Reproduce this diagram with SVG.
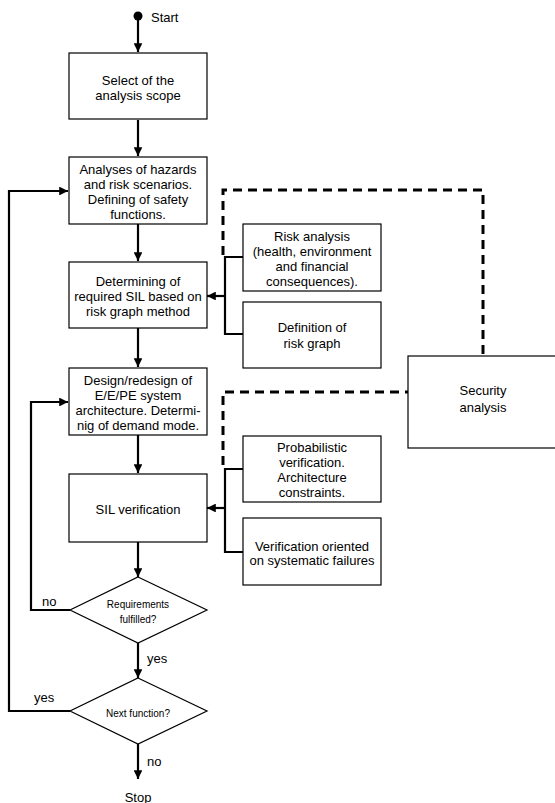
<svg xmlns="http://www.w3.org/2000/svg" width="555" height="803" viewBox="0 0 555 803">
<style>
  .box { fill: #fff; stroke: #000; stroke-width: 1.2; }
  .t { font-family: "Liberation Sans", Arial, sans-serif; font-size: 13px; fill: #000; text-anchor: middle; dominant-baseline: central; }
  .s { font-family: "Liberation Sans", Arial, sans-serif; font-size: 10px; fill: #000; text-anchor: middle; dominant-baseline: central; }
  .l { font-family: "Liberation Sans", Arial, sans-serif; font-size: 13px; fill: #000; dominant-baseline: central; }
  .c { fill: none; stroke: #000; stroke-width: 2.2; }
  .d { fill: none; stroke: #000; stroke-width: 3; stroke-dasharray: 9 6; }
</style>
<defs>
  <marker id="ah" viewBox="0 0 10 10" refX="10" refY="5" markerWidth="4" markerHeight="4" markerUnits="strokeWidth" orient="auto">
    <path d="M0,0 L10,5 L0,10 z" fill="#000"/>
  </marker>
</defs>

<g id="connectors">
  <circle cx="138" cy="16" r="4.5" fill="#000"/>
  <line class="c" x1="138" y1="18" x2="138" y2="52" marker-end="url(#ah)"/>
  <line class="c" x1="138" y1="120" x2="138" y2="156" marker-end="url(#ah)"/>
  <line class="c" x1="138" y1="224" x2="138" y2="261" marker-end="url(#ah)"/>
  <line class="c" x1="138" y1="328" x2="138" y2="367" marker-end="url(#ah)"/>
  <line class="c" x1="138" y1="435" x2="138" y2="473" marker-end="url(#ah)"/>
  <line class="c" x1="138" y1="542" x2="138" y2="577" marker-end="url(#ah)"/>
  <line class="c" x1="138" y1="643" x2="138" y2="678" marker-end="url(#ah)"/>
  <line class="c" x1="138" y1="744" x2="138" y2="779" marker-end="url(#ah)"/>
  <!-- feedback loops -->
  <polyline class="c" points="70,711 9,711 9,191 68,191" marker-end="url(#ah)"/>
  <polyline class="c" points="70,610 31,610 31,402 68,402" marker-end="url(#ah)"/>
  <!-- brackets -->
  <polyline class="c" points="243,257 225,257 225,334 243,334"/>
  <line class="c" x1="225" y1="296" x2="207" y2="296" marker-end="url(#ah)"/>
  <polyline class="c" points="243,469 225,469 225,552 243,552"/>
  <line class="c" x1="225" y1="508" x2="207" y2="508" marker-end="url(#ah)"/>
  <!-- dashed security links -->
  <polyline class="d" points="223,255 223,190 483,190 483,356"/>
  <polyline class="d" points="223,465 223,392 408,392"/>
</g>

<g id="start"><text class="l" x="151" y="17">Start</text></g>

<g id="n1">
  <rect class="box" x="69" y="53" width="138" height="66"/>
  <text class="t" x="138" y="80">Select of the</text>
  <text class="t" x="138" y="95">analysis scope</text>
</g>
<g id="n2">
  <rect class="box" x="69" y="157" width="138" height="67"/>
  <text class="t" x="138" y="169">Analyses of hazards</text>
  <text class="t" x="138" y="184">and risk scenarios.</text>
  <text class="t" x="138" y="199">Defining of safety</text>
  <text class="t" x="138" y="214">functions.</text>
</g>
<g id="n3">
  <rect class="box" x="69" y="262" width="138" height="66"/>
  <text class="t" x="138" y="281">Determining of</text>
  <text class="t" x="138" y="296">required SIL based on</text>
  <text class="t" x="138" y="311">risk graph method</text>
</g>
<g id="n4">
  <rect class="box" x="69" y="368" width="138" height="67"/>
  <text class="t" x="138" y="380">Design/redesign of</text>
  <text class="t" x="138" y="395">E/E/PE system</text>
  <text class="t" x="138" y="410">architecture. Determi-</text>
  <text class="t" x="138" y="425">nig of demand mode.</text>
</g>
<g id="n5">
  <rect class="box" x="69" y="474" width="138" height="68"/>
  <text class="t" x="138" y="509">SIL verification</text>
</g>
<g id="risk">
  <rect class="box" x="243" y="224" width="138" height="67"/>
  <text class="t" x="312" y="236">Risk analysis</text>
  <text class="t" x="312" y="251">(health, environment</text>
  <text class="t" x="312" y="266">and financial</text>
  <text class="t" x="312" y="281">consequences).</text>
</g>
<g id="graph">
  <rect class="box" x="243" y="302" width="138" height="66"/>
  <text class="t" x="312" y="327">Definition of</text>
  <text class="t" x="312" y="343">risk graph</text>
</g>
<g id="security">
  <rect class="box" x="408" y="356" width="160" height="92"/>
  <text class="t" x="483" y="390">Security</text>
  <text class="t" x="483" y="407">analysis</text>
</g>
<g id="prob">
  <rect class="box" x="243" y="436" width="138" height="66"/>
  <text class="t" x="312" y="447">Probabilistic</text>
  <text class="t" x="312" y="462">verification.</text>
  <text class="t" x="312" y="477">Architecture</text>
  <text class="t" x="312" y="492">constraints.</text>
</g>
<g id="sys">
  <rect class="box" x="243" y="518" width="138" height="67"/>
  <text class="t" x="312" y="546">Verification oriented</text>
  <text class="t" x="312" y="560">on systematic failures</text>
</g>
<g id="d1">
  <polygon class="box" points="138,577 207,610 138,643 70,610"/>
  <text class="s" x="138" y="604">Requirements</text>
  <text class="s" x="138" y="619">fulfilled?</text>
</g>
<g id="d2">
  <polygon class="box" points="138,678 207,711 138,744 70,711"/>
  <text class="s" x="138" y="713">Next function?</text>
</g>
<g id="labels">
  <text class="l" x="42" y="601">no</text>
  <text class="l" x="147" y="658">yes</text>
  <text class="l" x="34" y="697">yes</text>
  <text class="l" x="147" y="761">no</text>
  <text class="t" x="138" y="797">Stop</text>
</g>
</svg>
